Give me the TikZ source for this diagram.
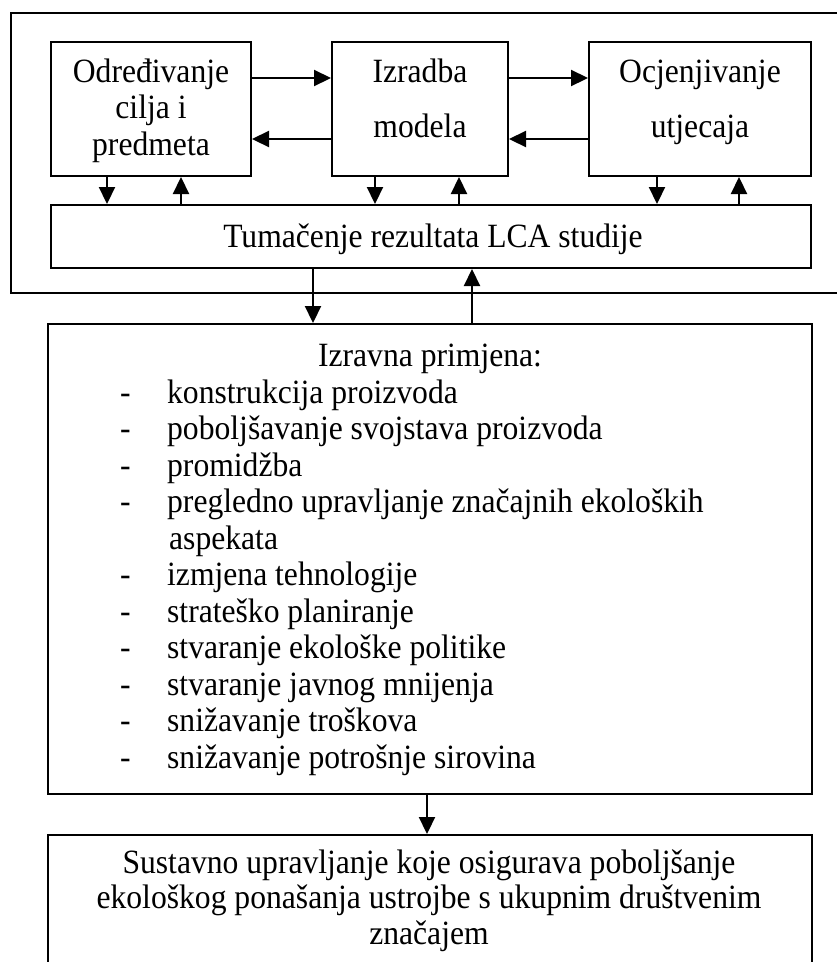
\documentclass[tikz,border=0pt]{standalone}
\usepackage{fontspec}
\setmainfont{Liberation Serif}[FakeStretch=0.93]
\usetikzlibrary{arrows.meta}
\newcommand\myfs{\fontsize{34}{36.5}\selectfont}
\begin{document}
\begin{tikzpicture}[x=1pt,y=-1pt,
  boxn/.style={draw=black, line width=2pt, rectangle, inner sep=0pt},
  txt/.style={font=\myfs, inner sep=0pt, anchor=base},
  arr/.style={line width=2.2pt, -{Triangle[length=17pt,width=16pt]}}]
\useasboundingbox (0,0) rectangle (837,962);
\clip (0,0) rectangle (837,962);
% outer frame (right side runs off the picture)
\node[boxn, anchor=north west, minimum width=860pt, minimum height=280pt] (outer) at (10,12) {};
% top boxes
\node[boxn, minimum width=200pt, minimum height=134pt] (b1) at (151,109) {};
\node[boxn, minimum width=176pt, minimum height=134pt] (b2) at (420,109) {};
\node[boxn, minimum width=222pt, minimum height=134pt] (b3) at (700,109) {};
\node[boxn, minimum width=760pt, minimum height=63pt] (t) at (431,236.5) {};
\node[boxn, anchor=north west, minimum width=764pt, minimum height=470pt] (izr) at (47,323) {};
\node[boxn, anchor=north west, minimum width=764pt, minimum height=170pt] (bot) at (47,834) {};
% texts
\node[txt] (b1t) at (151,82) {\begin{tabular}[t]{@{}c@{}}Određivanje\\cilja i\\predmeta\end{tabular}};
\node[txt] (b2t) at (420,82) {\begin{tabular}[t]{@{}c@{}}Izradba\\[18.5pt]modela\end{tabular}};
\node[txt] (b3t) at (700,82) {\begin{tabular}[t]{@{}c@{}}Ocjenjivanje\\[18.5pt]utjecaja\end{tabular}};
\node[txt] (tt) at (433,247) {Tumačenje rezultata LCA studije};
\node[txt] (izrh) at (430,366) {Izravna primjena:};
\node[txt, anchor=base west] (lst) at (120,403) {\begin{tabular}[t]{@{}p{47pt}@{}l@{}}
- & konstrukcija proizvoda\\
- & poboljšavanje svojstava proizvoda\\
- & promidžba\\
- & pregledno upravljanje značajnih ekoloških\\
  & \hspace{2pt}aspekata\\
- & izmjena tehnologije\\
- & strateško planiranje\\
- & stvaranje ekološke politike\\
- & stvaranje javnog mnijenja\\
- & snižavanje troškova\\
- & snižavanje potrošnje sirovina
\end{tabular}};
\node[txt] (bott) at (429,873) {\begin{tabular}[t]{@{}c@{}}Sustavno upravljanje koje osigurava poboljšanje\\[-1pt]ekološkog ponašanja ustrojbe s ukupnim društvenim\\[-1pt]značajem\end{tabular}};
% horizontal arrows
\draw[arr] (b1.east |- 0,78) -- (b2.west |- 0,78);
\draw[arr] (b2.west |- 0,139) -- (b1.east |- 0,139);
\draw[arr] (b2.east |- 0,78) -- (b3.west |- 0,78);
\draw[arr] (b3.west |- 0,139) -- (b2.east |- 0,139);
% vertical arrows to/from interpretation
\draw[arr] (b1.south -| 107,0) -- (t.north -| 107,0);
\draw[arr] (t.north -| 181,0) -- (b1.south -| 181,0);
\draw[arr] (b2.south -| 375,0) -- (t.north -| 375,0);
\draw[arr] (t.north -| 459,0) -- (b2.south -| 459,0);
\draw[arr] (b3.south -| 657,0) -- (t.north -| 657,0);
\draw[arr] (t.north -| 739,0) -- (b3.south -| 739,0);
% to application box
\draw[arr] (t.south -| 313,0) -- (izr.north -| 313,0);
\draw[arr] (izr.north -| 472,0) -- (t.south -| 472,0);
% to final box
\draw[arr] (izr.south -| 427,0) -- (bot.north -| 427,0);
\end{tikzpicture}
\end{document}
